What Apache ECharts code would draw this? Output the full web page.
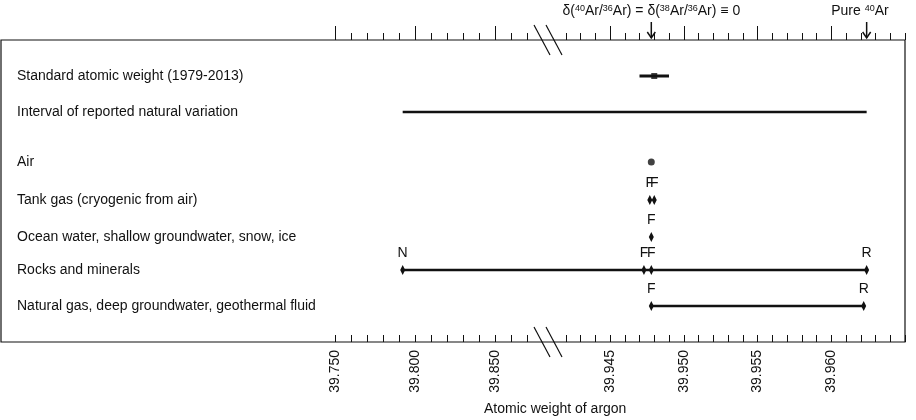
<!DOCTYPE html>
<html>
<head>
<meta charset="utf-8">
<script src="https://cdn.jsdelivr.net/npm/echarts@6/dist/echarts.min.js"></script>
<style>html,body{margin:0;padding:0;background:#fff}#main{width:916px;height:420px}</style>
</head>
<body>
<div id="main"></div>
<script>
// row names and their vertical positions (px below frame top)
const rowNames = ['Standard atomic weight (1979-2013)', 'Interval of reported natural variation', 'Air',
  'Tank gas (cryogenic from air)', 'Ocean water, shallow groundwater, snow, ice', 'Rocks and minerals',
  'Natural gas, deep groundwater, geothermal fluid'];
const rowY = [36, 72, 122, 160, 197, 230, 266];

const tickValues = [39.750, 39.800, 39.850, 39.945, 39.950, 39.955, 39.960, 39.965];
const tickLabels = ['39.750', '39.800', '39.850', '39.945', '39.950', '39.955', '39.960', '39.965'];

const stdRange = [39.947, 39.949];
const stdValue = 39.948;
const naturalRange = [39.7923, 39.9624];
const airValue = 39.9478;
const tankValues = [39.9477, 39.9480];
const oceanValues = [39.9478];
const rockPoints = [['N', 39.7923], ['F', 39.9473], ['F', 39.9478], ['R', 39.9624]];
const gasPoints = [['F', 39.9478], ['R', 39.9622]];
const refValue = 39.9478, pure40 = 39.9624;

// broken axis: left part 80 per 0.05, right part 73.75 per 0.005
const LU = 80, RU = 73.75, R0 = 275, AXMAX = R0 + 4 * RU;
function toD(v) { return v <= 39.86 ? (v - 39.75) / 0.05 * LU : R0 + (v - 39.945) / 0.005 * RU; }
const majorD = tickValues.map(toD);
const minorD = [];
for (let i = 0; i <= 12; i++) minorD.push(i * LU / 5);
for (let i = -3; i <= 20; i++) minorD.push(R0 + i * RU / 5);

const font = 'Liberation Sans, Arial, sans-serif';
const ink = '#111';
const chart = echarts.init(document.getElementById('main'));

function xAx(pos, custom, len, labels) {
  return {
    type: 'value', position: pos, min: 0, max: AXMAX,
    axisLine: { show: false }, splitLine: { show: false },
    axisTick: { show: true, inside: pos === 'bottom', length: len, customValues: custom, lineStyle: { color: ink } },
    axisLabel: labels ? {
      show: true, customValues: majorD, rotate: 90, margin: 8, fontSize: 14, color: ink, fontFamily: font,
      showMinLabel: true, showMaxLabel: true, hideOverlap: false,
      formatter: v => { const i = majorD.findIndex(d => Math.abs(d - v) < 1e-6); return i >= 0 ? tickLabels[i] : ''; }
    } : { show: false }
  };
}

function pts(vals, y) { return vals.map(v => [toD(v), y]); }
const lineStyle = { color: ink, width: 2.5 };
const diamond = { symbol: 'diamond', symbolSize: [5, 10], itemStyle: { color: ink, opacity: 1 } };
const letterLabel = { show: true, position: 'top', distance: 5, formatter: p => p.data[2], fontSize: 14, color: ink, fontFamily: font };

chart.setOption({
  animation: false,
  grid: { left: 335, right: 11, top: 40, bottom: 78 },
  xAxis: [xAx('bottom', majorD, 14, true), xAx('bottom', minorD, 7), xAx('top', majorD, 14), xAx('top', minorD, 7)],
  yAxis: {
    type: 'value', min: 0, max: 302, inverse: true,
    axisLine: { show: false }, axisTick: { show: false }, splitLine: { show: false },
    axisLabel: {
      customValues: rowY, align: 'left', margin: 318, fontSize: 14, color: ink, fontFamily: font,
      formatter: v => rowNames[rowY.indexOf(v)]
    }
  },
  graphic: [
    { type: 'rect', shape: { x: 1, y: 40, width: 904, height: 302 }, style: { fill: null, stroke: ink, lineWidth: 1.2 } },
    { type: 'text', left: 484, top: 402, style: { text: 'Atomic weight of argon', font: '14px ' + font, fill: ink } }
  ],
  series: [
    { type: 'line', data: pts(stdRange, rowY[0]), symbol: 'none', lineStyle: { color: ink, width: 3 } },
    { type: 'scatter', data: [[toD(stdValue), rowY[0]]], symbol: 'rect', symbolSize: 6, itemStyle: { color: ink } },
    { type: 'line', data: pts(naturalRange, rowY[1]), symbol: 'none', lineStyle: lineStyle },
    { type: 'scatter', data: [[toD(airValue), rowY[2]]], symbolSize: 7, itemStyle: { color: ink } },
    Object.assign({ type: 'scatter', data: tankValues.map(v => [toD(v), rowY[3], 'F']), label: letterLabel }, diamond),
    Object.assign({ type: 'scatter', data: oceanValues.map(v => [toD(v), rowY[4], 'F']), label: letterLabel }, diamond),
    { type: 'line', data: pts([rockPoints[0][1], rockPoints[3][1]], rowY[5]), symbol: 'none', lineStyle: lineStyle },
    Object.assign({ type: 'scatter', z: 3, data: rockPoints.map(p => [toD(p[1]), rowY[5], p[0]]), label: letterLabel }, diamond),
    { type: 'line', data: pts(gasPoints.map(p => p[1]), rowY[6]), symbol: 'none', lineStyle: lineStyle },
    Object.assign({ type: 'scatter', z: 3, data: gasPoints.map(p => [toD(p[1]), rowY[6], p[0]]), label: letterLabel }, diamond),
    // axis break marks
    {
      type: 'custom', silent: true, data: [[213, 0]],
      renderItem: (params, api) => {
        const x = api.coord([api.value(0), 0])[0];
        const ys = [api.coord([0, 0])[1], api.coord([0, 302])[1]];
        const ch = [];
        ys.forEach(y => [-6, 6].forEach(o => ch.push({
          type: 'line', shape: { x1: x + o - 8, y1: y - 15, x2: x + o + 8, y2: y + 15 }, style: { stroke: ink, lineWidth: 1.2 }
        })));
        return { type: 'group', children: ch };
      }
    },
    // top annotations with arrows
    {
      type: 'custom', silent: true,
      data: [[toD(refValue), 0], [toD(pure40), 0]],
      renderItem: (params, api) => {
        const p = api.coord([api.value(0), 0]);
        const x = p[0], y = p[1];
        const isRef = params.dataIndex === 0;
        const rich = { s: { fontSize: 9, padding: [0, 0, 6, 0], fontFamily: font, fill: ink } };
        return {
          type: 'group', children: [
            { type: 'line', shape: { x1: x, y1: y - 18, x2: x, y2: y - 2 }, style: { stroke: ink, lineWidth: 1.5 } },
            { type: 'polyline', shape: { points: [[x - 4, y - 8], [x, y - 2], [x + 4, y - 8]] }, style: { stroke: ink, fill: null, lineWidth: 1.5 } },
            {
              type: 'text', x: isRef ? x : x + 22, y: y - 21,
              style: {
                text: isRef ? 'δ({s|40}Ar/{s|36}Ar) = δ({s|38}Ar/{s|36}Ar) ≡ 0' : 'Pure {s|40}Ar',
                rich: rich, font: '14px ' + font, fill: ink,
                align: isRef ? 'center' : 'right', verticalAlign: 'bottom'
              }
            }
          ]
        };
      }
    }
  ]
});
</script>
</body>
</html>
